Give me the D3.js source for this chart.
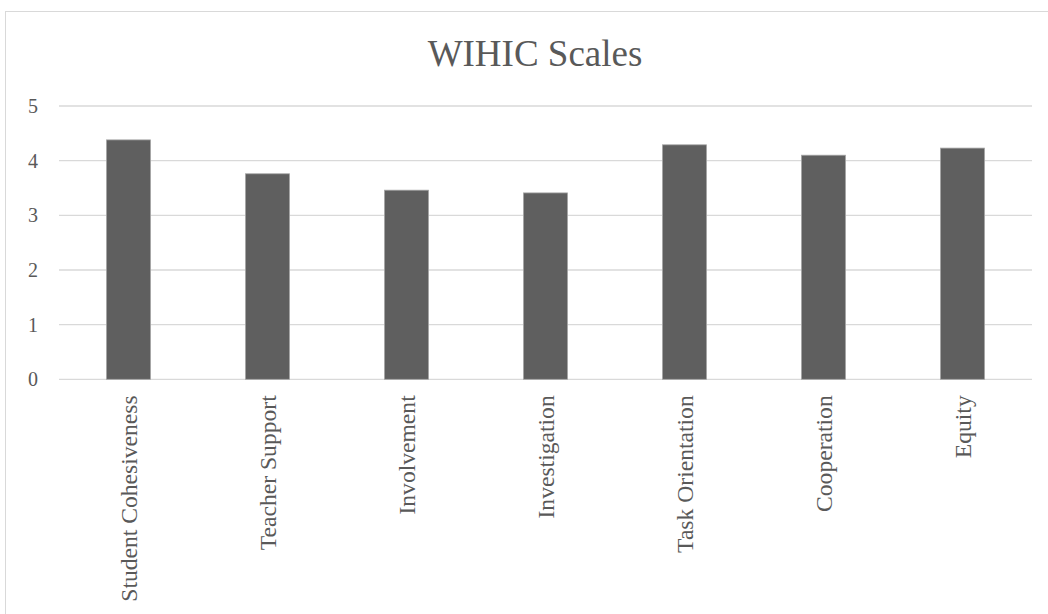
<!DOCTYPE html>
<html>
<head>
<meta charset="utf-8">
<script src="https://cdn.jsdelivr.net/npm/d3@7"></script>
<style>
  html, body { margin: 0; padding: 0; background: #ffffff; }
  svg { display: block; }
</style>
</head>
<body>
<script>
// WIHIC scale means
const categories = ["Student Cohesiveness", "Teacher Support", "Involvement", "Investigation",
                    "Task Orientation", "Cooperation", "Equity"];
const values = [4.38, 3.76, 3.46, 3.41, 4.29, 4.10, 4.23];
const yTicks = [0, 1, 2, 3, 4, 5];
const title = "WIHIC Scales";

const W = 1048, H = 614;
const plot = { left: 59, right: 1032, top: 106, bottom: 379.3 };
const serif = "'Liberation Serif', 'Times New Roman', serif";
const textColor = "#595959";

const svg = d3.select("body").append("svg")
  .attr("width", W).attr("height", H);

// chart frame
svg.append("rect")
  .attr("x", 5.5).attr("y", 11.5)
  .attr("width", W + 10).attr("height", H + 10)
  .attr("fill", "#ffffff")
  .attr("stroke", "#d9d9d9").attr("stroke-width", 1);

const x = d3.scaleBand()
  .domain(categories)
  .range([plot.left, plot.right])
  .paddingInner(0.683)
  .paddingOuter(0.3415);

const y = d3.scaleLinear()
  .domain([0, 5])
  .range([plot.bottom, plot.top]);

// horizontal gridlines
svg.append("g")
  .selectAll("line")
  .data(yTicks)
  .join("line")
  .attr("x1", plot.left).attr("x2", plot.right)
  .attr("y1", d => y(d)).attr("y2", d => y(d))
  .attr("stroke", "#d9d9d9").attr("stroke-width", 1.3);

// y axis labels
const yAxis = svg.append("g")
  .attr("transform", `translate(${plot.left},0)`)
  .call(d3.axisLeft(y).tickValues(yTicks).tickFormat(d3.format("d")).tickSize(0).tickPadding(21));
yAxis.select(".domain").remove();
yAxis.selectAll("text")
  .attr("font-family", serif)
  .attr("font-size", 20)
  .attr("fill", textColor);

// bars
svg.append("g")
  .selectAll("rect")
  .data(categories)
  .join("rect")
  .attr("x", d => x(d))
  .attr("width", x.bandwidth())
  .attr("y", (d, i) => y(values[i]))
  .attr("height", (d, i) => y(0) - y(values[i]))
  .attr("fill", "#5f5f5f")
  .attr("stroke", "#a6a6a6").attr("stroke-width", 0.8);

// category labels, rotated
const xAxis = svg.append("g")
  .attr("transform", `translate(0,${plot.bottom})`)
  .call(d3.axisBottom(x).tickSize(0).tickPadding(0));
xAxis.select(".domain").remove();
xAxis.selectAll("text")
  .attr("font-family", serif)
  .attr("font-size", 23.6)
  .attr("fill", textColor)
  .attr("text-anchor", "end")
  .attr("dy", null)
  .attr("y", 0)
  .attr("transform", "translate(8.5,16) rotate(-90)");

// title
svg.append("text")
  .attr("x", 535).attr("y", 66)
  .attr("text-anchor", "middle")
  .attr("font-family", serif)
  .attr("font-size", 37)
  .attr("fill", textColor)
  .text(title);
</script>
</body>
</html>
